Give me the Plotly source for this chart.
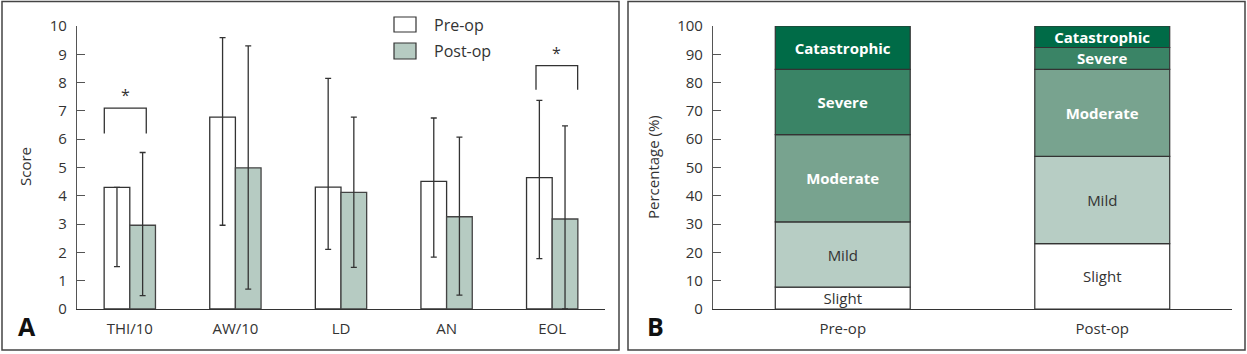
import plotly.graph_objects as go

# ---------------- Data ----------------
categories = ["THI/10", "AW/10", "LD", "AN", "EOL"]
pre_mean = [4.30, 6.78, 4.31, 4.51, 4.64]
pre_err_top = [4.30, 9.59, 8.15, 6.75, 7.37]
pre_err_bottom = [1.50, 2.96, 2.11, 1.83, 1.78]
post_mean = [2.96, 4.99, 4.12, 3.26, 3.18]
post_err_top = [5.53, 9.30, 6.78, 6.07, 6.47]
post_err_bottom = [0.47, 0.70, 1.47, 0.49, 0.00]

# significance brackets: (left x, right x, top y, leg bottom y, star x, star y)
sig_brackets = [
    (-0.2415, 0.156, 7.10, 6.20, -0.045, 7.55),
    (3.8466, 4.241, 8.60, 7.75, 4.043, 9.05),
]

groups = ["Pre-op", "Post-op"]
severity = ["Slight", "Mild", "Moderate", "Severe", "Catastrophic"]
severity_pct = {
    "Slight": [7.7, 23.1],
    "Mild": [23.1, 30.8],
    "Moderate": [30.8, 30.8],
    "Severe": [23.1, 7.7],
    "Catastrophic": [15.3, 7.6],
}
severity_colors = {
    "Slight": "#ffffff",
    "Mild": "#b7cdc4",
    "Moderate": "#78a38f",
    "Severe": "#3a8466",
    "Catastrophic": "#006b47",
}
severity_text = {
    "Slight": ("#333333", False),
    "Mild": ("#333333", False),
    "Moderate": ("#ffffff", True),
    "Severe": ("#ffffff", True),
    "Catastrophic": ("#ffffff", True),
}

W, H = 1247, 354
FONT = "Open Sans"

def px(x):
    return x / W

def py(y):
    return 1 - y / H

fig = go.Figure()

# ---------------- Panel A ----------------
bw = 0.243
fig.add_trace(go.Bar(
    x=categories, y=pre_mean, width=bw, offset=-bw,
    marker=dict(color="#ffffff", line=dict(color="#333333", width=1.3)),
    error_y=dict(type="data", symmetric=False,
                 array=[t - m for t, m in zip(pre_err_top, pre_mean)],
                 arrayminus=[m - b for m, b in zip(pre_mean, pre_err_bottom)],
                 color="#333333", thickness=1.3, width=3),
    name="Pre-op", showlegend=False, xaxis="x", yaxis="y",
))
fig.add_trace(go.Bar(
    x=categories, y=post_mean, width=bw, offset=0,
    marker=dict(color="#b6cbc2", line=dict(color="#444444", width=1.3)),
    error_y=dict(type="data", symmetric=False,
                 array=[t - m for t, m in zip(post_err_top, post_mean)],
                 arrayminus=[m - b for m, b in zip(post_mean, post_err_bottom)],
                 color="#333333", thickness=1.3, width=3),
    name="Post-op", showlegend=False, xaxis="x", yaxis="y",
))

# ---------------- Panel B ----------------
base = [0.0, 0.0]
for s in severity:
    vals = severity_pct[s]
    col, bold = severity_text[s]
    fig.add_trace(go.Bar(
        x=groups, y=vals, base=list(base), width=0.52,
        marker=dict(color=severity_colors[s], line=dict(color="#333333", width=1.2)),
        text=[f"<b>{s}</b>" if bold else s] * len(groups),
        textposition="inside", insidetextanchor="middle",
        textfont=dict(family=FONT, size=15, color=col),
        constraintext="none", textangle=0,
        name=s, showlegend=False, xaxis="x2", yaxis="y2",
        hoverinfo="skip",
    ))
    base = [b + v for b, v in zip(base, vals)]

shapes = []
annotations = []

# Significance brackets
for (x0, x1, ytop, yleg, sx, sy) in sig_brackets:
    shapes.append(dict(type="path", xref="x", yref="y",
                       path=f"M {x0},{yleg} L {x0},{ytop} L {x1},{ytop} L {x1},{yleg}",
                       line=dict(color="#333333", width=1.3)))
    annotations.append(dict(x=sx, y=sy, xref="x", yref="y", text="*", showarrow=False,
                            font=dict(family=FONT, size=16, color="#333333")))

# Panel borders
for (x0, x1) in [(2, 619), (628, 1245)]:
    shapes.append(dict(type="rect", xref="paper", yref="paper",
                       x0=px(x0), x1=px(x1), y0=py(350), y1=py(1.5),
                       line=dict(color="#444444", width=1.5), fillcolor="rgba(0,0,0,0)",
                       layer="below"))

# Manual legend
leg_items = [("Pre-op", "#ffffff", 17, 32, 25), ("Post-op", "#b6cbc2", 43, 59, 51)]
for name, col, y0, y1, yc in leg_items:
    shapes.append(dict(type="rect", xref="paper", yref="paper",
                       x0=px(394), x1=px(416), y0=py(y1), y1=py(y0),
                       line=dict(color="#333333", width=1.2), fillcolor=col))
    annotations.append(dict(x=px(432), y=py(yc), xref="paper", yref="paper", text=name,
                            showarrow=False, xanchor="left", yanchor="middle",
                            font=dict(family=FONT, size=16, color="#333333")))

# Axis titles
annotations.append(dict(x=px(25), y=py(167), xref="paper", yref="paper", text="Score",
                        textangle=-90, showarrow=False, xanchor="center", yanchor="middle",
                        font=dict(family=FONT, size=15, color="#333333")))
annotations.append(dict(x=px(653), y=py(167), xref="paper", yref="paper", text="Percentage (%)",
                        textangle=-90, showarrow=False, xanchor="center", yanchor="middle",
                        font=dict(family=FONT, size=15, color="#333333")))

# Panel letters
annotations.append(dict(x=px(27), y=py(326), xref="paper", yref="paper", text="<b>A</b>",
                        showarrow=False, xanchor="center", yanchor="middle",
                        font=dict(family=FONT, size=25, color="#111111")))
annotations.append(dict(x=px(655), y=py(326), xref="paper", yref="paper", text="<b>B</b>",
                        showarrow=False, xanchor="center", yanchor="middle",
                        font=dict(family=FONT, size=25, color="#111111")))

ydom = [py(309), py(26)]
tickfont = dict(family=FONT, size=15, color="#333333")
common = dict(showgrid=False, zeroline=False, tickfont=tickfont, automargin=False)

fig.update_layout(
    width=W, height=H, autosize=False,
    margin=dict(l=0, r=0, t=0, b=0, pad=0),
    paper_bgcolor="#ffffff", plot_bgcolor="#ffffff",
    barmode="overlay",
    showlegend=False,
    xaxis=dict(domain=[px(77), px(605)], range=[-0.5, 4.5], type="category",
               showline=True, linecolor="#333333", linewidth=1.2, ticks="",
               anchor="y", ticklabelstandoff=6, **common),
    yaxis=dict(domain=ydom, range=[0, 10], tickvals=list(range(0, 11)),
               showline=True, linecolor="#555555", linewidth=1.2,
               ticks="inside", ticklen=8, tickcolor="#555555", tickwidth=1.2,
               anchor="x", ticklabelstandoff=6, **common),
    xaxis2=dict(domain=[px(713), px(1232)], range=[-0.5, 1.5], type="category",
                showline=True, linecolor="#333333", linewidth=1.2, ticks="",
                anchor="y2", ticklabelstandoff=6, **common),
    yaxis2=dict(domain=ydom, range=[0, 100], tickvals=list(range(0, 101, 10)),
                showline=True, linecolor="#555555", linewidth=1.2,
                ticks="inside", ticklen=8, tickcolor="#555555", tickwidth=1.2,
                anchor="x2", ticklabelstandoff=6, **common),
    shapes=shapes,
    annotations=annotations,
)

fig.write_html("out.html", config={"displayModeBar": False})
